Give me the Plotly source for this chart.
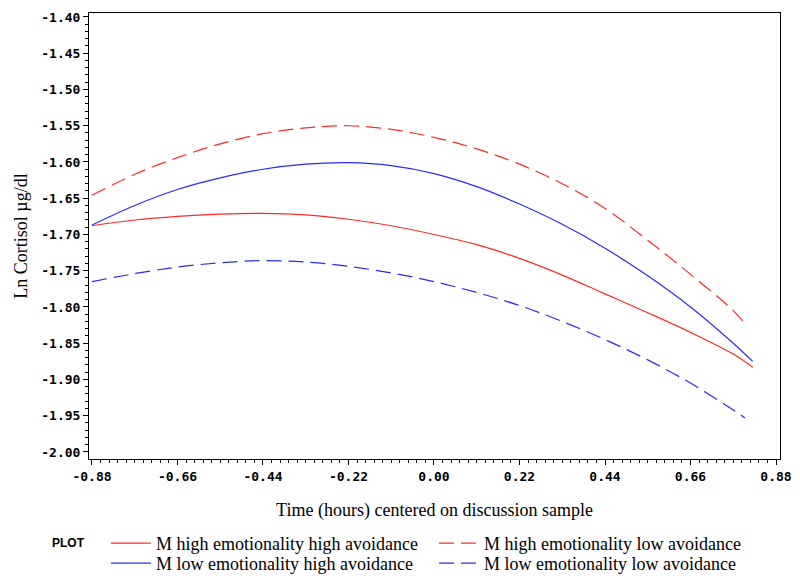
import plotly.graph_objects as go

# ---- data ----
time_solid = [-0.88, -0.77, -0.66, -0.55, -0.44, -0.33, -0.22, -0.11, 0.00,
              0.11, 0.22, 0.33, 0.44, 0.55, 0.66, 0.77, 0.82]
time_dashed = [-0.88, -0.77, -0.66, -0.55, -0.44, -0.33, -0.22, -0.11, 0.00,
               0.11, 0.22, 0.33, 0.44, 0.55, 0.66, 0.77, 0.80]

high_emo_high_avoid = [-1.688, -1.680, -1.675, -1.672, -1.671, -1.673, -1.679, -1.688, -1.700,
                       -1.714, -1.733, -1.756, -1.782, -1.808, -1.835, -1.865, -1.883]
high_emo_low_avoid = [-1.646, -1.617, -1.594, -1.575, -1.561, -1.553, -1.550, -1.555, -1.566,
                      -1.582, -1.603, -1.630, -1.664, -1.708, -1.755, -1.805, -1.823]
low_emo_high_avoid = [-1.687, -1.660, -1.638, -1.622, -1.610, -1.603, -1.601, -1.605, -1.616,
                      -1.634, -1.658, -1.686, -1.719, -1.757, -1.800, -1.850, -1.875]
low_emo_low_avoid = [-1.765, -1.754, -1.745, -1.739, -1.736, -1.738, -1.744, -1.753, -1.765,
                     -1.780, -1.798, -1.820, -1.845, -1.873, -1.905, -1.942, -1.953]

series_names = ["M high emotionality high avoidance",
                "M high emotionality low avoidance",
                "M low emotionality high avoidance",
                "M low emotionality low avoidance"]

x_ticks = [-0.88, -0.66, -0.44, -0.22, 0.00, 0.22, 0.44, 0.66, 0.88]
y_ticks = [-2.00, -1.95, -1.90, -1.85, -1.80, -1.75, -1.70, -1.65, -1.60, -1.55, -1.50, -1.45, -1.40]

RED = "#ff2a2a"
BLUE = "#2a2aff"
DASH = "15px,7px"

fig = go.Figure()
specs = [
    (time_solid, high_emo_high_avoid, series_names[0], RED, "solid", "legend"),
    (time_dashed, high_emo_low_avoid, series_names[1], RED, DASH, "legend"),
    (time_solid, low_emo_high_avoid, series_names[2], BLUE, "solid", "legend2"),
    (time_dashed, low_emo_low_avoid, series_names[3], BLUE, DASH, "legend2"),
]
for xs, ys, name, col, dash, lg in specs:
    fig.add_trace(go.Scatter(
        x=xs, y=ys, name=name, mode="lines", legend=lg,
        line=dict(color=col, width=1.2, dash=dash, shape="spline", smoothing=1.0),
    ))

tickfont = dict(family="DejaVu Sans Mono", size=13, color="black", weight="bold")
titlefont = dict(family="Liberation Serif", size=18, color="black")
legfont = dict(family="Liberation Serif", size=18, color="black")

leg_common = dict(
    orientation="h", xref="paper", x=0.0246, xanchor="left",
    yref="container", yanchor="top",
    entrywidth=273, entrywidthmode="pixels",
    font=legfont, itemwidth=40, bgcolor="rgba(0,0,0,0)",
)

fig.update_layout(
    width=800, height=579,
    margin=dict(l=89, r=20, t=13, b=120, autoexpand=False),
    paper_bgcolor="white", plot_bgcolor="white",
    showlegend=True,
    legend=dict(leg_common, y=1 - 525 / 579),
    legend2=dict(leg_common, y=1 - 545 / 579),
    xaxis=dict(
        range=[-0.8877, 0.8903], showgrid=False, zeroline=False, automargin=False,
        showline=True, linecolor="black", linewidth=1, mirror=True,
        tickvals=x_ticks, ticktext=[f"{v:.2f}" for v in x_ticks],
        ticks="outside", ticklen=5, tickcolor="black", tickwidth=1,
        minor=dict(dtick=0.022, tick0=-0.88, ticks="outside", ticklen=3, tickcolor="black", tickwidth=1),
        tickfont=tickfont,
        title=dict(text="Time (hours) centered on discussion sample", font=titlefont, standoff=20),
    ),
    yaxis=dict(
        range=[-2.0097, -1.3945], showgrid=False, zeroline=False, automargin=False,
        showline=True, linecolor="black", linewidth=1, mirror=True,
        tickvals=y_ticks, ticktext=[f"{v:.2f}" for v in y_ticks],
        ticks="outside", ticklen=5, tickcolor="black", tickwidth=1,
        minor=dict(dtick=0.01, tick0=-2.0, ticks="outside", ticklen=3, tickcolor="black", tickwidth=1),
        tickfont=tickfont,
        title=dict(text="Ln Cortisol µg/dl", font=titlefont, standoff=8),
    ),
    annotations=[dict(
        text="PLOT", xref="paper", yref="paper", x=-0.0564, y=-0.188,
        xanchor="left", yanchor="middle", showarrow=False,
        font=dict(family="Liberation Sans", size=12, color="black", weight="bold"),
    )],
)

fig.write_html(
    "out.html",
    config={"displayModeBar": False},
    post_script="document.body.style.margin='0';document.body.style.overflow='hidden';",
)
